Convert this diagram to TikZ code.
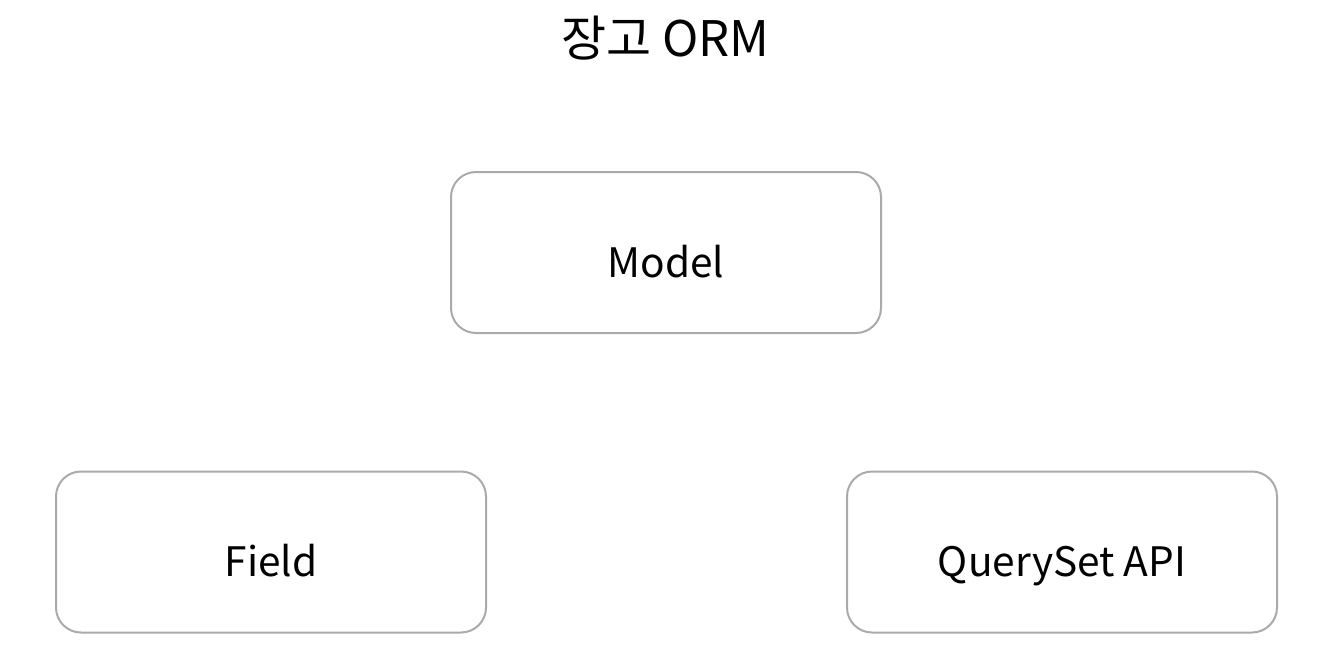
\documentclass[tikz,border=0pt]{standalone}
\usepackage{fontspec}
\setmainfont{Noto Sans CJK KR}
\definecolor{boxgray}{HTML}{AAAAAA}
\begin{document}
\begin{tikzpicture}[x=1pt,y=-1pt,
    ormbox/.style={draw=boxgray,line width=2pt,rounded corners=25pt,
        minimum width=430pt,minimum height=161pt,inner sep=0pt,
        text height=49pt,text depth=0pt,font=\fontsize{40.6}{46}\selectfont}]
\useasboundingbox (0,0) rectangle (1333,664);
\node[font=\fontsize{49}{55}\selectfont,anchor=base] (title) at (665.5,56) {장고 ORM};
\node[ormbox] (model) at (666,252.5) {Model};
\node[ormbox] (field) at (271,552) {Field};
\node[ormbox] (queryset) at (1062,552) {QuerySet API};
\end{tikzpicture}
\end{document}
